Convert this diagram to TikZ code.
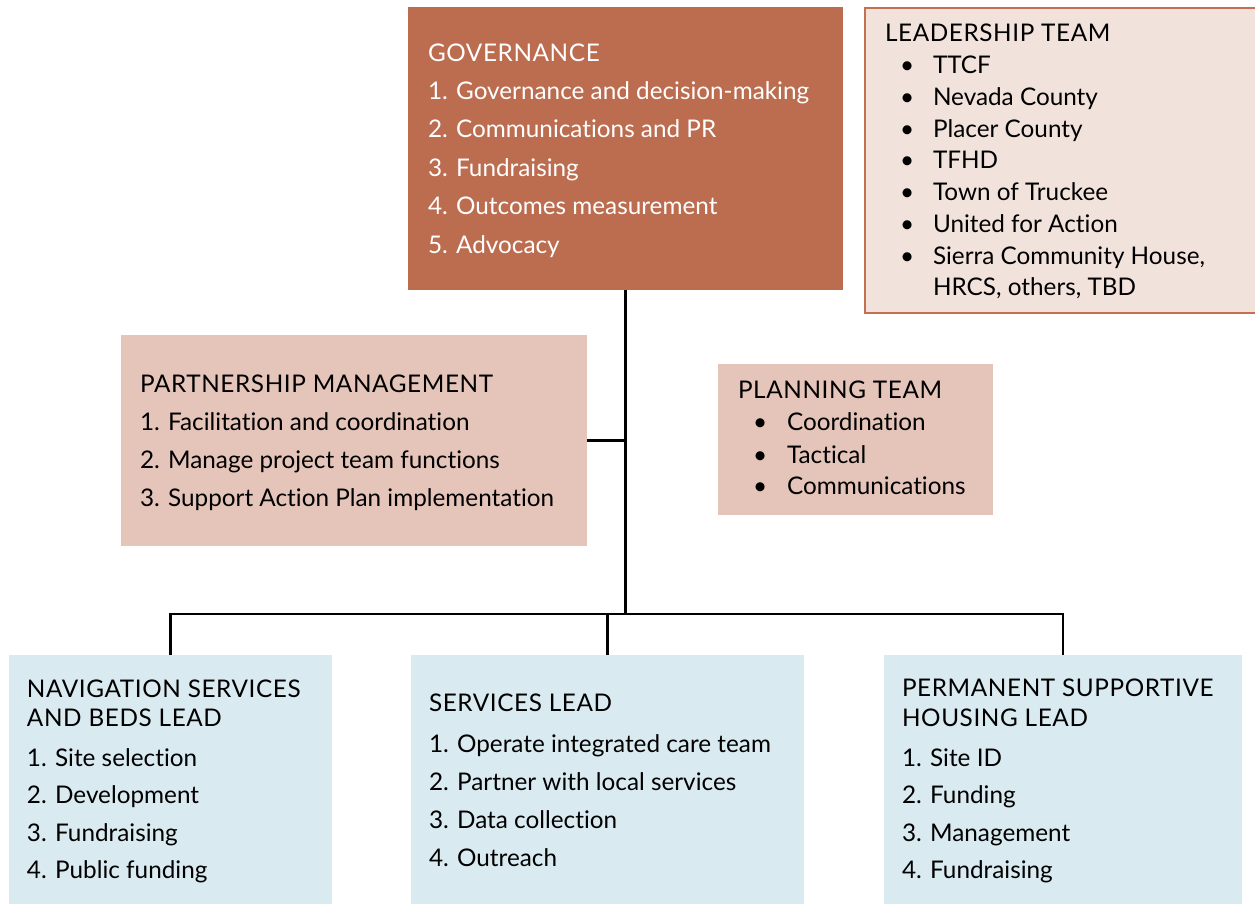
\documentclass[tikz,border=0pt]{standalone}
\usepackage{fontspec}
\setmainfont[Ligatures={NoCommon,NoRare}]{Lato}
\definecolor{govfill}{RGB}{188,109,80}
\definecolor{leadfill}{RGB}{242,226,220}
\definecolor{leadline}{RGB}{196,111,80}
\definecolor{pinkfill}{RGB}{229,196,185}
\definecolor{bluefill}{RGB}{218,234,241}
\tikzset{
  box/.style={anchor=north west, inner sep=0pt, outer sep=0pt, draw=none},
  txt/.style={anchor=base west, inner sep=0pt, outer sep=0pt, font=\fontsize{24.3}{28}\selectfont},
  ttl/.style={txt, font=\fontsize{24.3}{28}\selectfont\addfontfeature{LetterSpace=2.5}},
  wtxt/.style={txt, text=white},
  wttl/.style={ttl, text=white},
  conn/.style={line width=2.2pt, black},
}
\begin{document}
\begin{tikzpicture}[x=1pt,y=-1pt]
\useasboundingbox (0,0) rectangle (1255,903);
% boxes
\node[box, fill=govfill, minimum width=435pt, minimum height=283pt] (gov) at (408,7) {};
\node[box, fill=leadfill, draw=leadline, line width=2pt, minimum width=395pt, minimum height=305pt] (lead) at (865,8) {};
\node[box, fill=pinkfill, minimum width=466pt, minimum height=211pt] (pm) at (121,335) {};
\node[box, fill=pinkfill, minimum width=275pt, minimum height=151pt] (plan) at (718,364) {};
\node[box, fill=bluefill, minimum width=323pt, minimum height=250pt] (nav) at (9,655) {};
\node[box, fill=bluefill, minimum width=393pt, minimum height=250pt] (svc) at (411,655) {};
\node[box, fill=bluefill, minimum width=358pt, minimum height=250pt] (psh) at (884,655) {};
% connectors
\coordinate (bus) at (625,614);
\draw[conn] (gov.south) -- (gov.south |- bus);
\draw[conn] (pm.east) -- (pm.east -| gov.south);
\draw[conn] (nav.north) -- (nav.north |- bus) -- (psh.north |- bus) -- (psh.north);
\draw[conn] (svc.north) -- (svc.north |- bus);
% governance text
\node[wttl] (g0) at (428,61) {GOVERNANCE};
\node[wtxt] (g1) at (428,99) {1. Governance and decision-making};
\node[wtxt] (g2) at (428,137) {2. Communications and PR};
\node[wtxt] (g3) at (428,176) {3. Fundraising};
\node[wtxt] (g4) at (428,214) {4. Outcomes measurement};
\node[wtxt] (g5) at (428,253) {5. Advocacy};
% leadership text
\node[ttl] (l0) at (885,41) {LEADERSHIP TEAM};
\foreach \y/\t [count=\i] in {73/TTCF,105/Nevada County,137/Placer County,168/TFHD,200/Town of Truckee,232/United for Action,264/{Sierra Community House,}} {
  \node[txt] (lb\i) at (900,\y) {•};
  \node[txt] (l\i) at (933,\y) {\t};
}
\node[txt] (l8) at (933,295) {HRCS, others, TBD};
% partnership text
\node[ttl] (p0) at (140,392) {PARTNERSHIP MANAGEMENT};
\node[txt] (p1) at (140,430) {1. Facilitation and coordination};
\node[txt] (p2) at (140,468) {2. Manage project team functions};
\node[txt] (p3) at (140,506) {3. Support Action Plan implementation};
% planning text
\node[ttl] (q0) at (738,398) {PLANNING TEAM};
\foreach \y/\t [count=\i] in {430/Coordination,463/Tactical,494/Communications} {
  \node[txt] (qb\i) at (753,\y) {•};
  \node[txt] (q\i) at (787,\y) {\t};
}
% navigation text
\node[ttl] (n0) at (27,697) {NAVIGATION SERVICES};
\node[ttl] (n00) at (27,726) {AND BEDS LEAD};
\node[txt] (n1) at (27,766) {1. Site selection};
\node[txt] (n2) at (27,803) {2. Development};
\node[txt] (n3) at (27,841) {3. Fundraising};
\node[txt] (n4) at (27,878) {4. Public funding};
% services text
\node[ttl] (s0) at (429,711) {SERVICES LEAD};
\node[txt] (s1) at (429,752) {1. Operate integrated care team};
\node[txt] (s2) at (429,790) {2. Partner with local services};
\node[txt] (s3) at (429,828) {3. Data collection};
\node[txt] (s4) at (429,866) {4. Outreach};
% psh text
\node[ttl] (h0) at (902,696) {PERMANENT SUPPORTIVE};
\node[ttl] (h00) at (902,726) {HOUSING LEAD};
\node[txt] (h1) at (902,766) {1. Site ID};
\node[txt] (h2) at (902,803) {2. Funding};
\node[txt] (h3) at (902,841) {3. Management};
\node[txt] (h4) at (902,878) {4. Fundraising};
\end{tikzpicture}
\end{document}
